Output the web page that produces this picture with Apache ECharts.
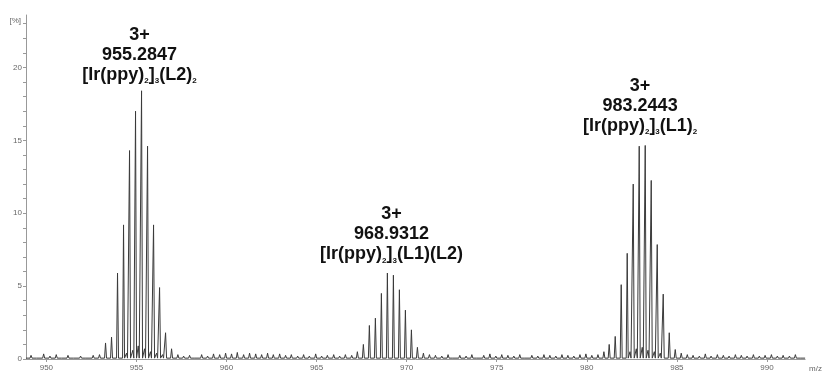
<!DOCTYPE html>
<html>
<head>
<meta charset="utf-8">
<script src="https://cdn.jsdelivr.net/npm/echarts@6/dist/echarts.min.js"></script>
<style>
  html, body { margin: 0; padding: 0; background: #fff; }
  #chart { width: 825px; height: 373px; }
</style>
</head>
<body>
<div id="chart"></div>
<script>
// Axis tick labels
const xTickLabels = [950, 955, 960, 965, 970, 975, 980, 985, 990];
const yTickLabels = [0, 5, 10, 15, 20];
const yMinorTicks = [0, 1, 2, 3, 4, 5, 6, 7, 8, 9, 10, 11, 12, 13, 14, 15, 16, 17, 18, 19, 20, 21, 22, 23];

// Isotope envelopes of the three 3+ ions: [m/z, relative intensity %]
const ionL2L2 = [
  [953.285, 1.1], [953.618, 1.5], [953.951, 5.9], [954.285, 9.2], [954.618, 14.3], [954.951, 17.0],
  [955.2847, 18.4], [955.618, 14.6], [955.951, 9.2], [956.285, 4.9], [956.618, 1.8], [956.951, 0.7]
];
const ionL1L2 = [
  [967.265, 0.5], [967.598, 1.0], [967.931, 2.3], [968.265, 2.8], [968.598, 4.5], [968.9312, 5.9],
  [969.265, 5.75], [969.598, 4.75], [969.931, 3.35], [970.265, 2.0], [970.598, 0.8], [970.931, 0.4],
  [971.265, 0.3]
];
const ionL1L1 = [
  [981.244, 1.0], [981.578, 1.55], [981.911, 5.1], [982.244, 7.25], [982.578, 12.0], [982.911, 14.6],
  [983.2443, 14.65], [983.578, 12.25], [983.911, 7.85], [984.244, 4.45], [984.578, 1.8], [984.911, 0.65],
  [985.244, 0.4]
];

// Minor signals between the isotope sticks and along the baseline
const minorPeaks = [
  [949.15, 0.25], [949.5, 0.15], [949.85, 0.35], [950.2, 0.2], [950.55, 0.3], [950.9, 0.15],
  [951.2, 0.25], [951.55, 0.1], [951.9, 0.2], [952.25, 0.15], [952.6, 0.25], [952.95, 0.3],
  [954.45, 0.4], [954.8, 0.6], [955.1, 0.9], [955.45, 0.7], [955.78, 0.5], [956.12, 0.4], [956.45, 0.3],
  [957.3, 0.3], [957.62, 0.2], [957.95, 0.25], [958.3, 0.15], [958.62, 0.3], [958.95, 0.2],
  [959.28, 0.35], [959.62, 0.3], [959.95, 0.4], [960.28, 0.35], [960.6, 0.45], [960.95, 0.3],
  [961.28, 0.4], [961.62, 0.35], [961.95, 0.3], [962.28, 0.4], [962.6, 0.3], [962.95, 0.35],
  [963.28, 0.25], [963.6, 0.3], [963.95, 0.2], [964.28, 0.3], [964.6, 0.2], [964.95, 0.35],
  [965.28, 0.2], [965.6, 0.25], [965.95, 0.3], [966.28, 0.2], [966.6, 0.3], [966.95, 0.25],
  [971.6, 0.25], [971.95, 0.2], [972.3, 0.3], [972.62, 0.15], [972.95, 0.25], [973.3, 0.2],
  [973.62, 0.3], [973.95, 0.15], [974.28, 0.25], [974.62, 0.35], [974.95, 0.2], [975.28, 0.3],
  [975.62, 0.25], [975.95, 0.2], [976.28, 0.3], [976.62, 0.15], [976.95, 0.25], [977.28, 0.2],
  [977.62, 0.3], [977.95, 0.25], [978.28, 0.2], [978.62, 0.3], [978.95, 0.25], [979.28, 0.2],
  [979.62, 0.3], [979.95, 0.35], [980.28, 0.25], [980.62, 0.3], [980.95, 0.5],
  [982.4, 0.5], [982.75, 0.7], [983.08, 0.8], [983.4, 0.6], [983.75, 0.5], [984.08, 0.4],
  [985.58, 0.3], [985.9, 0.25], [986.25, 0.2], [986.58, 0.35], [986.9, 0.2], [987.25, 0.3],
  [987.58, 0.25], [987.9, 0.2], [988.25, 0.3], [988.58, 0.25], [988.9, 0.2], [989.25, 0.3],
  [989.58, 0.2], [989.9, 0.25], [990.25, 0.3], [990.58, 0.2], [990.9, 0.25], [991.25, 0.2],
  [991.58, 0.3], [991.9, 0.15]
];

// Ion annotations: charge, m/z, formula (rich text)
const ionCharges = ['3+', '3+', '3+'];
const ionMz = ['955.2847', '968.9312', '983.2443'];
const ionFormulas = [
  '{t|[Ir(ppy)}{s|2}{t|]}{s|3}{t|(L2)}{s|2}',
  '{t|[Ir(ppy)}{s|2}{t|]}{s|3}{t|(L1)(L2)}',
  '{t|[Ir(ppy)}{s|2}{t|]}{s|3}{t|(L1)}{s|2}'
];

const X_MIN = 948.87, X_MAX = 992.12;
const BASE = 0.06;      // baseline level
const HALF = 0.055;     // half width of a stick at its base (m/z)

// Turn stick list into a continuous profile trace
const sticks = [].concat(ionL2L2, ionL1L2, ionL1L1, minorPeaks).sort((a, b) => a[0] - b[0]);
const trace = [[X_MIN, BASE]];
sticks.forEach(([mz, h]) => {
  trace.push([mz - HALF, BASE], [mz, h], [mz + HALF, BASE]);
});
trace.push([X_MAX, BASE]);

// Anchor of each annotation block (centre of its middle line)
const annotationAnchors = [[955.17, 20.85], [969.16, 8.55], [982.96, 17.38]];
const rich = {
  t: { fontFamily: 'Liberation Sans', fontSize: 18, fontWeight: 'bold', color: '#111', lineHeight: 20 },
  s: { fontFamily: 'Liberation Sans', fontSize: 8, fontWeight: 'bold', color: '#111', lineHeight: 20, verticalAlign: 'bottom' }
};

const chart = echarts.init(document.getElementById('chart'), null, { renderer: 'canvas' });
chart.setOption({
  animation: false,
  backgroundColor: '#ffffff',
  grid: { left: 26, right: 17, top: 15, bottom: 12, containLabel: false },
  xAxis: {
    type: 'value', min: X_MIN, max: X_MAX,
    name: 'm/z', nameLocation: 'end', nameGap: 4,
    nameTextStyle: { fontFamily: 'Liberation Sans', fontSize: 8, color: '#666', verticalAlign: 'top', padding: [6, 0, 0, 0] },
    axisLine: { show: true, lineStyle: { color: '#999', width: 1 } },
    axisTick: { show: true, customValues: xTickLabels, length: 3, lineStyle: { color: '#999' } },
    axisLabel: { customValues: xTickLabels, fontFamily: 'Liberation Sans', fontSize: 8, color: '#666', margin: 5 },
    splitLine: { show: false }
  },
  yAxis: {
    type: 'value', min: 0, max: 23.6,
    name: '[%]', nameLocation: 'end', nameGap: -2,
    nameTextStyle: { fontFamily: 'Liberation Sans', fontSize: 8, color: '#666', align: 'right', verticalAlign: 'top', padding: [0, 5, 0, 0] },
    axisLine: { show: true, lineStyle: { color: '#999', width: 1 } },
    axisTick: { show: true, customValues: yMinorTicks, length: 3, lineStyle: { color: '#999' } },
    axisLabel: { customValues: yTickLabels, fontFamily: 'Liberation Sans', fontSize: 8, color: '#666', margin: 4 },
    splitLine: { show: false }
  },
  series: [{
    type: 'line',
    data: trace,
    showSymbol: false,
    symbol: 'none',
    sampling: null,
    lineStyle: { color: '#3a3a3a', width: 1 },
    markPoint: {
      symbol: 'circle', symbolSize: 1,
      itemStyle: { color: 'rgba(0,0,0,0)' },
      data: annotationAnchors.map((c, i) => ({
        coord: c,
        label: {
          show: true, position: 'inside', align: 'center', verticalAlign: 'middle',
          formatter: '{t|' + ionCharges[i] + '}\n{t|' + ionMz[i] + '}\n' + ionFormulas[i],
          rich: rich
        }
      }))
    }
  }]
});
</script>
</body>
</html>
